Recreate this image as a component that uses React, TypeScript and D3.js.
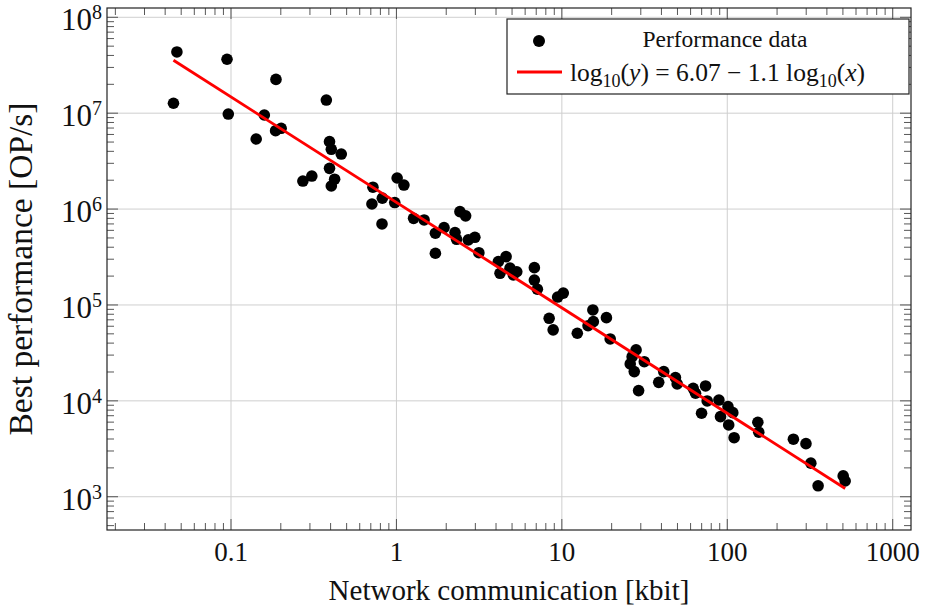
import * as d3 from 'd3';
import React from 'react';

// network communication per point [kbit]
const kbit = [
  0.0471, 0.0449, 0.0946, 0.0963, 0.187, 0.159, 0.142, 0.186, 0.201, 0.377,
  0.394, 0.404, 0.464, 0.272, 0.308, 0.394, 0.423, 0.404, 0.721, 0.711,
  0.822, 0.818, 1.01, 1.11, 0.977, 1.27, 1.47, 1.72, 1.94, 1.72,
  2.42, 2.62, 2.26, 2.31, 2.72, 2.98, 3.15, 4.13, 4.6, 4.23,
  4.86, 5.34, 5.09, 6.82, 6.82, 7.11, 10.2, 9.43, 8.38, 8.86,
  12.4, 15.4, 15.5, 14.4, 18.6, 19.6, 28.1, 26.6, 25.9, 27.4,
  31.5, 29.1, 41.3, 38.5, 48.6, 49.8, 62.2, 64.3, 73.9, 75.6,
  89, 69.9, 91, 101, 108, 102, 110, 153, 155, 251,
  299, 320, 354, 502, 516,
];

// best performance per point [OP/s]
const opsPerSec = [
  4.35e7, 1.27e7, 3.65e7, 9.8e6, 2.25e7, 9.57e6, 5.38e6, 6.57e6, 6.96e6, 1.37e7,
  5.05e6, 4.2e6, 3.75e6, 1.96e6, 2.21e6, 2.66e6, 2.05e6, 1.74e6, 1.69e6, 1.13e6,
  1.3e6, 7.0e5, 2.11e6, 1.78e6, 1.17e6, 8.0e5, 7.7e5, 5.6e5, 6.4e5, 3.46e5,
  9.4e5, 8.5e5, 5.7e5, 4.84e5, 4.77e5, 5.08e5, 3.51e5, 2.83e5, 3.19e5, 2.14e5,
  2.42e5, 2.22e5, 2.06e5, 2.45e5, 1.82e5, 1.46e5, 1.33e5, 1.21e5, 7.26e4, 5.5e4,
  5.07e4, 8.87e4, 6.7e4, 6.08e4, 7.37e4, 4.42e4, 3.4e4, 2.89e4, 2.43e4, 2.02e4,
  2.56e4, 1.28e4, 2.02e4, 1.56e4, 1.75e4, 1.5e4, 1.35e4, 1.2e4, 1.43e4, 9.98e3,
  1.02e4, 7.43e3, 6.84e3, 8.7e3, 7.53e3, 5.61e3, 4.13e3, 5.98e3, 4.71e3, 3.98e3,
  3.58e3, 2.24e3, 1.3e3, 1.65e3, 1.46e3,
];

// log10(y) = fitIntercept + fitSlope * log10(x)
const fitIntercept = 6.07;
const fitSlope = -1.1;

const xTicks = [0.1, 1, 10, 100, 1000];
const xTickLabels = ['0.1', '1', '10', '100', '1000'];
const yTickExponents = [3, 4, 5, 6, 7, 8];

const W = 925;
const H = 608;
const font = '"Liberation Serif", "Times New Roman", serif';

export default function App() {
  const left = 107, right = 911, top = 8, bottom = 530;

  const x = d3.scaleLog().domain([0.0178, 1290]).range([left, right]);
  const y = d3.scaleLog().domain([450, 1.25e8]).range([bottom, top]);

  // minor ticks (2..9 of every decade) inside the domain
  const minor = (sc: d3.ScaleLogarithmic<number, number>) => {
    const [a, b] = sc.domain();
    const out: number[] = [];
    for (let e = Math.floor(Math.log10(a)); e <= Math.ceil(Math.log10(b)); e++) {
      for (let m = 2; m <= 9; m++) {
        const v = m * Math.pow(10, e);
        if (v >= a && v <= b) out.push(v);
      }
    }
    return out;
  };
  const xMinor = minor(x);
  const yMinor = minor(y);
  const yMajor = yTickExponents.map(e => Math.pow(10, e));

  const [x0, x1] = d3.extent(kbit) as [number, number];
  const fit = (v: number) => Math.pow(10, fitIntercept + fitSlope * Math.log10(v));
  const fitLine = d3.line<number>().x(d => x(d)).y(d => y(fit(d)))([x0, x1]) || '';

  const tickCol = '#444';
  const gridCol = '#cfcfcf';
  const majLen = 11, minLen = 7;

  return (
    <svg width={W} height={H} style={{ position: 'absolute', left: 0, top: 0 }} fontFamily={font}>
      <rect width={W} height={H} fill="white" />

      {/* grid */}
      {xTicks.map(v => (
        <line key={'gx' + v} x1={x(v)} x2={x(v)} y1={top} y2={bottom} stroke={gridCol} strokeWidth={1} />
      ))}
      {yMajor.map(v => (
        <line key={'gy' + v} x1={left} x2={right} y1={y(v)} y2={y(v)} stroke={gridCol} strokeWidth={1} />
      ))}

      {/* ticks, all pointing inward */}
      {xMinor.map(v => (
        <g key={'mx' + v} stroke={tickCol} strokeWidth={0.9}>
          <line x1={x(v)} x2={x(v)} y1={bottom} y2={bottom - minLen} />
          <line x1={x(v)} x2={x(v)} y1={top} y2={top + minLen} />
        </g>
      ))}
      {xTicks.map(v => (
        <g key={'Mx' + v} stroke={tickCol} strokeWidth={0.9}>
          <line x1={x(v)} x2={x(v)} y1={bottom} y2={bottom - majLen} />
          <line x1={x(v)} x2={x(v)} y1={top} y2={top + majLen} />
        </g>
      ))}
      {yMinor.map(v => (
        <g key={'my' + v} stroke={tickCol} strokeWidth={0.9}>
          <line x1={left} x2={left + minLen} y1={y(v)} y2={y(v)} />
          <line x1={right} x2={right - minLen} y1={y(v)} y2={y(v)} />
        </g>
      ))}
      {yMajor.map(v => (
        <g key={'My' + v} stroke={tickCol} strokeWidth={0.9}>
          <line x1={left} x2={left + majLen} y1={y(v)} y2={y(v)} />
          <line x1={right} x2={right - majLen} y1={y(v)} y2={y(v)} />
        </g>
      ))}

      {/* data */}
      {kbit.map((v, i) => (
        <circle key={'p' + i} cx={x(v)} cy={y(opsPerSec[i])} r={5.8} fill="black" />
      ))}
      <path d={fitLine} fill="none" stroke="#ff0000" strokeWidth={2.8} />

      {/* frame */}
      <rect x={left} y={top} width={right - left} height={bottom - top} fill="none" stroke="#222" strokeWidth={1.2} />

      {/* tick labels */}
      {xTicks.map((v, i) => (
        <text key={'lx' + v} x={x(v)} y={561} fontSize={27} textAnchor="middle" fill="#111">{xTickLabels[i]}</text>
      ))}
      {yTickExponents.map(e => (
        <text key={'ly' + e} x={102} y={y(Math.pow(10, e)) + 13} fontSize={31} textAnchor="end" fill="#111">
          10<tspan fontSize={20} dy={-11}>{e}</tspan>
        </text>
      ))}

      {/* axis labels */}
      <text x={(left + right) / 2} y={600} fontSize={29} textAnchor="middle" fill="#111">Network communication [kbit]</text>
      <text transform={`translate(32,${(top + bottom) / 2}) rotate(-90)`} fontSize={33.5} textAnchor="middle" fill="#111">Best performance [OP/s]</text>

      {/* legend */}
      <rect x={507} y={19} width={402} height={75} fill="white" stroke="#222" strokeWidth={1.2} />
      <circle cx={539} cy={41} r={6} fill="black" />
      <text x={725} y={47} fontSize={23.5} textAnchor="middle" fill="#111">Performance data</text>
      <line x1={517} x2={562} y1={72} y2={72} stroke="#ff0000" strokeWidth={2.8} />
      <text x={570} y={81} fontSize={25.5} fill="#111">
        log<tspan fontSize={18} dy={6}>10</tspan><tspan dy={-6}>(</tspan><tspan fontStyle="italic">y</tspan>)<tspan>{' = 6.07 − 1.1 log'}</tspan><tspan fontSize={18} dy={6}>10</tspan><tspan dy={-6}>(</tspan><tspan fontStyle="italic">x</tspan>)
      </text>
    </svg>
  );
}
